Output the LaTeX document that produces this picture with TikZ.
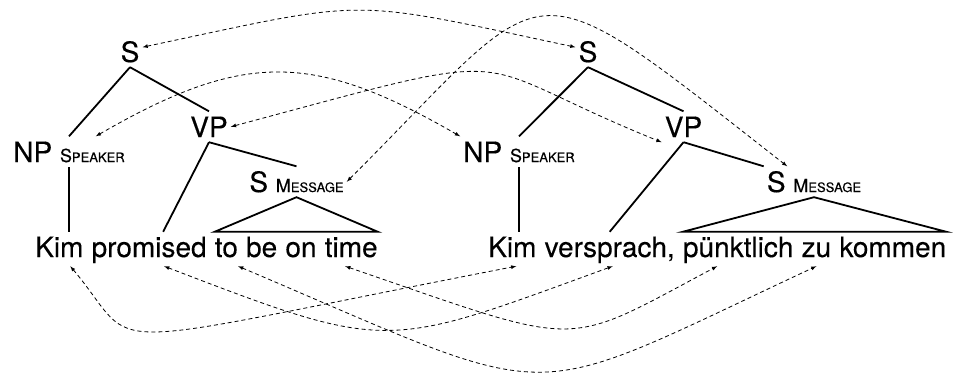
\documentclass[tikz,border=0pt]{standalone}
\usepackage{fontspec}
\setmainfont{TeX Gyre Heros}[FakeBold=0.3]
\usetikzlibrary{positioning}
\newcommand{\rolename}[2]{{\fontsize{18}{18}\selectfont #1}{\fontsize{13}{13}\selectfont #2}}

\begin{document}
\begin{tikzpicture}[x=1pt,y=1pt,>=latex,
    every node/.style={font=\fontsize{28}{32}\selectfont},
    cat/.style={inner xsep=3pt,inner ysep=5pt,text height=20.5pt,text depth=0pt,anchor=base},
    word/.style={inner xsep=0pt,inner ysep=4pt,text height=21pt,text depth=5pt},
    branch/.style={line width=1.8pt},
    link/.style={<->,line width=0.8pt,dash pattern=on 4pt off 3pt}]
  \useasboundingbox (0,0) rectangle (953,-375);

  % English sentence and tree
  \node[word,anchor=base west] (en-1) at (35,-257) {Kim};
  \foreach \w [count=\i from 2, remember=\i as \j (initially 1)] in {promised,to,be,on,time}
    \node[word,base right=7.8pt of en-\j] (en-\i) {\w};

  \node[cat] (S-en) at (130,-62) {S};
  \node[cat] (NP-en) at (69,-162) {NP \rolename{S}{PEAKER}};
  \node[cat] (VP-en) at (209,-137) {VP};
  \node[cat] (SM-en) at (296.5,-192) {S \rolename{M}{ESSAGE}};

  \draw[branch] (S-en.south) -- (NP-en.north);
  \draw[branch] (S-en.south) -- (VP-en.north);
  \draw[branch] (NP-en.south) -- (NP-en.south |- en-1.north);
  \draw[branch] (VP-en.south) -- ([xshift=14pt]en-2.north);
  \draw[branch] (VP-en.south) -- (SM-en.north);
  \draw[branch] (SM-en.south) -- (en-3.north west) -- (en-6.north east) -- cycle;

  % German sentence and tree
  \node[word,anchor=base west] (de-1) at (488,-257) {Kim};
  \foreach \w [count=\i from 2, remember=\i as \j (initially 1)] in {{versprach,},pünktlich,zu,kommen}
    \node[word,base right=7.8pt of de-\j] (de-\i) {\w};

  \node[cat] (S-de) at (588,-62) {S};
  \node[cat] (NP-de) at (519,-162) {NP \rolename{S}{PEAKER}};
  \node[cat] (VP-de) at (683.5,-137) {VP};
  \node[cat] (SM-de) at (814,-192) {S \rolename{M}{ESSAGE}};

  \draw[branch] (S-de.south) -- (NP-de.north);
  \draw[branch] (S-de.south) -- (VP-de.north);
  \draw[branch] (NP-de.south) -- (NP-de.south |- de-1.north);
  \draw[branch] (VP-de.south) -- (de-2.north);
  \draw[branch] (VP-de.south) -- (SM-de.north west);
  \draw[branch] (SM-de.south) -- (de-3.north west) -- (de-5.north east) -- cycle;

  % links between the categories
  \draw[link] (S-en.20) .. controls +(12:236) and +(168:236) .. (S-de.160);
  \draw[link] (NP-en.30) .. controls +(30:170) and +(150:170) .. (NP-de.north west);
  \draw[link] (VP-en.east) .. controls +(15:320) and +(158:222) .. (VP-de.south west);
  \draw[link] (SM-en.east) .. controls +(45:297) and +(142:341) .. (SM-de.150);

  % links between the words
  \draw[link] ([xshift=11pt]en-1.south) .. controls +(-50:115) and +(191:450) .. ([xshift=4pt]de-1.south);
  \draw[link] ([xshift=15pt]en-2.south) .. controls +(-21:243) and +(200:243) .. ([xshift=3pt]de-2.south);
  \draw[link] (en-3.south east) .. controls +(-23:360) and +(205:333) .. (de-4.south);
  \draw[link] ([xshift=-6pt]en-6.south) .. controls +(-19:255) and +(208:177) .. ([xshift=-21pt]de-3.south);
\end{tikzpicture}
\end{document}
